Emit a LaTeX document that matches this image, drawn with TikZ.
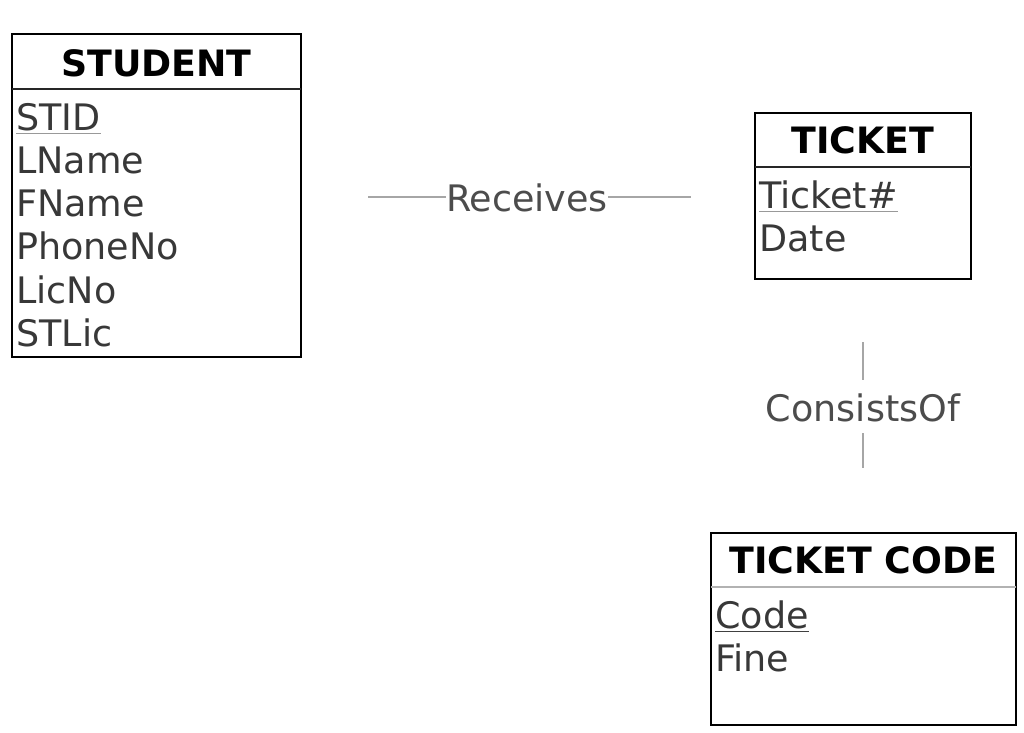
\documentclass[tikz,border=0pt]{standalone}
\usepackage{fontspec}
\setmainfont{DejaVu Sans}
\begin{document}
\begin{tikzpicture}[x=1pt,y=-1pt,
  ebox/.style={draw=black, line width=1.3pt, inner sep=0pt},
  sepline/.style={draw=black!85, line width=1.2pt},
  head/.style={font=\fontsize{36.3}{42}\selectfont\bfseries, text=black, anchor=base, inner sep=0pt},
  attr/.style={font=\fontsize{36.5}{42}\selectfont, text=black!78, anchor=base west, inner sep=0pt},
  rel/.style={font=\fontsize{36.5}{42}\selectfont, text=black!70, anchor=base, inner sep=0pt},
  conn/.style={draw=black!35, line width=1.2pt},
  uline/.style={draw=black!40, line width=1.5pt}]
\useasboundingbox (0,0) rectangle (1024,732);
% STUDENT
\node[ebox, minimum width=289pt, minimum height=323pt] (student) at (156.5,195.5) {};
\draw[sepline] (12,89) -- (301,89);
\node[head] (sthead) at (156.5,76) {STUDENT};
\node[attr] (stid) at (16,130) {STID};
\node[attr] (lname) at (16,173) {LName};
\node[attr] (fname) at (16,216) {FName};
\node[attr] (phone) at (16,259) {PhoneNo};
\node[attr] (licno) at (16,303) {LicNo};
\node[attr] (stlic) at (16,346) {STLic};
\draw[uline] ([yshift=-3pt]stid.south west) -- ([yshift=-3pt]stid.south east);
% TICKET
\node[ebox, minimum width=216pt, minimum height=166pt] (ticket) at (863,196) {};
\draw[sepline] (755,167) -- (971,167);
\node[head] (tkhead) at (863,153) {TICKET};
\node[attr] (tno) at (759,208) {Ticket\#};
\node[attr] (tdate) at (759,251) {Date};
\draw[uline] ([yshift=-3pt]tno.south west) -- ([yshift=-3pt]tno.south east);
% TICKET CODE
\node[ebox, minimum width=305pt, minimum height=192pt] (tcode) at (863.5,629) {};
\draw[sepline, draw=black!30] (711,587) -- (1016,587);
\node[head] (tchead) at (863.5,573) {TICKET CODE};
\node[attr] (code) at (715,628) {Code};
\node[attr] (fine) at (715,671) {Fine};
\draw[uline, draw=black!75] ([yshift=-3pt]code.south west) -- ([yshift=-3pt]code.south east);
% Receives
\node[rel] (rec) at (527,211) {Receives};
\coordinate (r1) at (368,197);
\coordinate (r2) at (691,197);
\draw[conn] (r1) -- (r1 -| rec.west);
\draw[conn] (r2 -| rec.east) -- (r2);
% ConsistsOf
\node[rel] (cons) at (863,421) {ConsistsOf};
\coordinate (c1) at (863,342);
\coordinate (c1b) at (863,380);
\coordinate (c2) at (863,433);
\coordinate (c2b) at (863,468);
\draw[conn] (c1) -- (c1b);
\draw[conn] (c2) -- (c2b);
\end{tikzpicture}
\end{document}
